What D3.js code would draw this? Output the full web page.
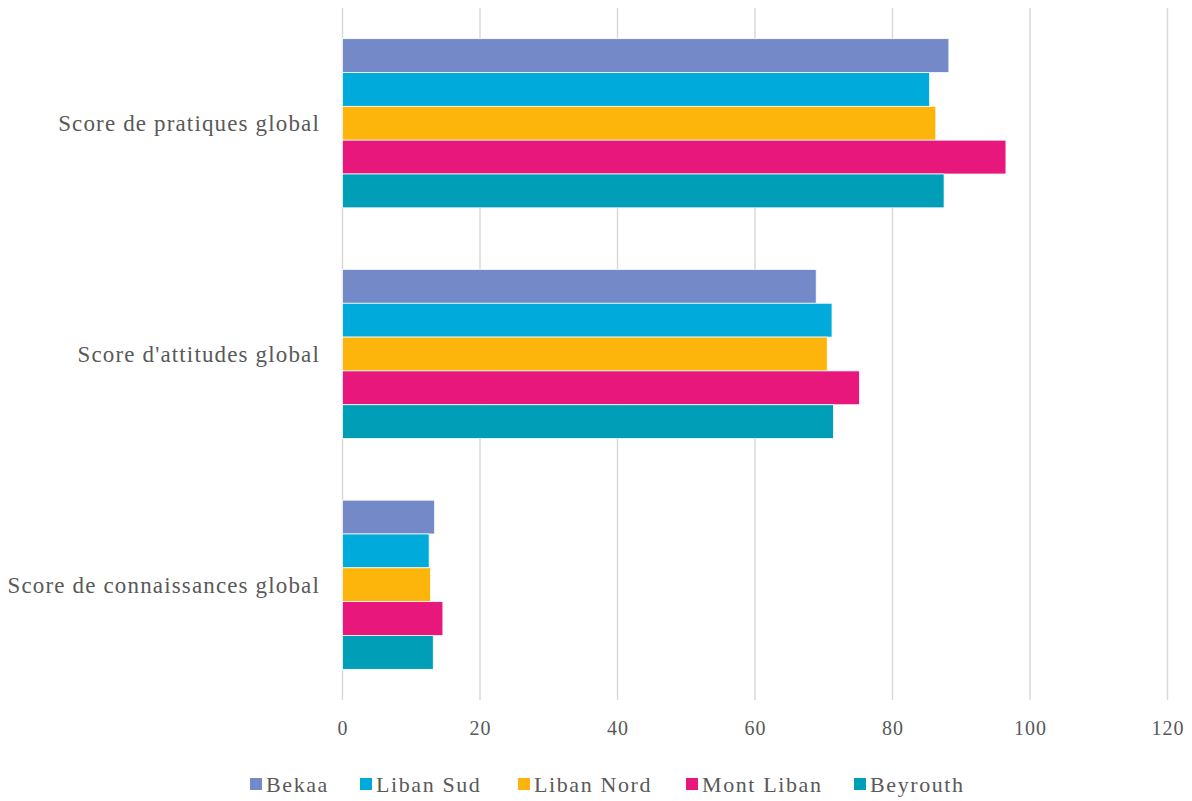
<!DOCTYPE html>
<html>
<head>
<meta charset="utf-8">
<script src="https://cdn.jsdelivr.net/npm/d3@7/dist/d3.min.js"></script>
<style>
  html, body { margin: 0; padding: 0; background: #fff; }
  svg { display: block; }
</style>
</head>
<body>
<svg id="chart" width="1192" height="801"></svg>
<script>
const categories = ["Score de pratiques global", "Score d'attitudes global", "Score de connaissances global"];
const seriesNames = ["Bekaa", "Liban Sud", "Liban Nord", "Mont Liban", "Beyrouth"];
const seriesColors = ["#748AC8", "#00ABDC", "#FDB40B", "#E8177B", "#009FB7"];
const bekaa     = [88.2, 68.9, 13.4];
const libanSud  = [85.4, 71.2, 12.6];
const libanNord = [86.3, 70.5, 12.8];
const montLiban = [96.5, 75.2, 14.6];
const beyrouth  = [87.5, 71.4, 13.2];
const xTicks = [0, 20, 40, 60, 80, 100, 120];

const seriesValues = [bekaa, libanSud, libanNord, montLiban, beyrouth];

const svg = d3.select("#chart");
const fontFam = "'Liberation Serif', 'DejaVu Serif', serif";
const textColor = "#595959";

const x = d3.scaleLinear().domain([0, 120]).range([342.5, 1167.5]);
const y = d3.scaleBand().domain(categories).range([8, 700]).paddingInner(0.267).paddingOuter(0.133);
const ySub = d3.scaleBand().domain(seriesNames).range([0, y.bandwidth()]).padding(0);

// gridlines
svg.append("g").selectAll("line").data(xTicks).join("line")
  .attr("x1", d => x(d)).attr("x2", d => x(d))
  .attr("y1", 8).attr("y2", 700)
  .attr("stroke", "#d9d9d9").attr("stroke-width", 1.5);

// bars
const groups = svg.append("g").selectAll("g").data(categories).join("g")
  .attr("transform", c => `translate(0,${y(c)})`);

groups.selectAll("rect")
  .data((c, ci) => seriesNames.map((s, si) => ({ s, si, v: seriesValues[si][ci] })))
  .join("rect")
  .attr("x", x(0))
  .attr("y", d => ySub(d.s))
  .attr("width", d => x(d.v) - x(0))
  .attr("height", ySub.bandwidth())
  .attr("fill", d => seriesColors[d.si])
  .attr("stroke", "#ffffff").attr("stroke-width", 0.75);

// category labels
svg.append("g").selectAll("text").data(categories).join("text")
  .attr("x", 320)
  .attr("y", c => y(c) + y.bandwidth() / 2)
  .attr("dy", "0.35em")
  .attr("text-anchor", "end")
  .attr("font-family", fontFam)
  .attr("font-size", 23)
  .attr("letter-spacing", 1.15)
  .attr("fill", textColor)
  .text(c => c);

// x axis tick labels
const xAxis = d3.axisBottom(x).tickValues(xTicks).tickSize(0).tickPadding(0).tickFormat(d3.format("d"));
const ax = svg.append("g").attr("transform", "translate(0,735)").call(xAxis);
ax.select(".domain").remove();
ax.selectAll("text")
  .attr("y", 0).attr("dy", 0)
  .attr("font-family", fontFam)
  .attr("font-size", 20)
  .attr("letter-spacing", 1)
  .attr("fill", textColor);

// legend
const legendX = [250, 360, 518, 686, 854];
const leg = svg.append("g").selectAll("g").data(seriesNames).join("g")
  .attr("transform", (d, i) => `translate(${legendX[i]},784)`);
leg.append("rect")
  .attr("x", 0).attr("y", -6).attr("width", 12).attr("height", 12)
  .attr("fill", (d, i) => seriesColors[i]);
leg.append("text")
  .attr("x", 16).attr("y", 0).attr("dy", "0.35em")
  .attr("font-family", fontFam)
  .attr("font-size", 22)
  .attr("letter-spacing", 1.6)
  .attr("fill", textColor)
  .text(d => d);
</script>
</body>
</html>
